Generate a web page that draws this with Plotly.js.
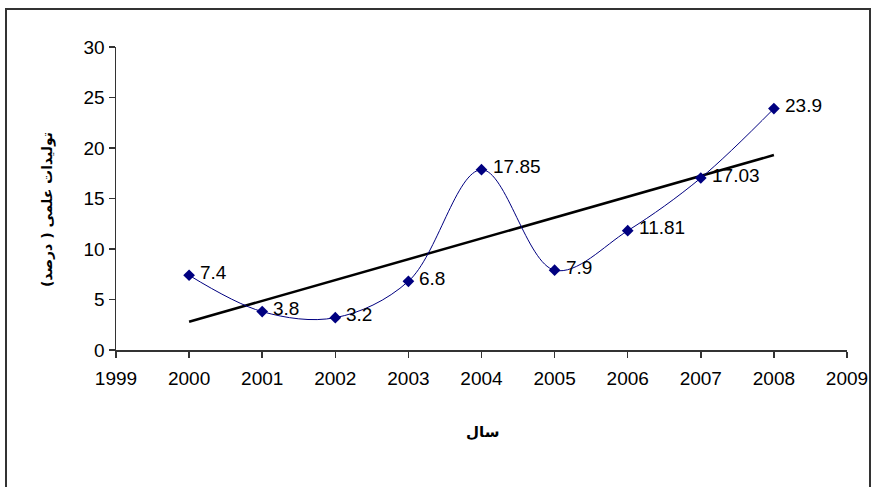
<!DOCTYPE html>
<html>
<head>
<meta charset="utf-8">
<script src="https://cdn.plot.ly/plotly-3.0.1.min.js"></script>
<style>
html,body{margin:0;padding:0;background:#fff;overflow:hidden;}
#wrap{position:relative;width:874px;height:487px;}
#chart{width:874px;height:487px;}
#frame{position:absolute;left:5px;top:8px;width:862px;height:520px;border:2px solid #333;pointer-events:none;}
</style>
</head>
<body>
<div id="wrap"><div id="chart"></div><div id="frame"></div></div>
<script>
const years = [2000, 2001, 2002, 2003, 2004, 2005, 2006, 2007, 2008];
const values = [7.4, 3.8, 3.2, 6.8, 17.85, 7.9, 11.81, 17.03, 23.9];
const valueLabels = ['7.4', '3.8', '3.2', '6.8', '17.85', '7.9', '11.81', '17.03', '23.9'];
const trendYears = [2000, 2008];
const trendValues = [2.8, 19.3];
const xTicks = [1999, 2000, 2001, 2002, 2003, 2004, 2005, 2006, 2007, 2008, 2009];
const yTicks = [0, 5, 10, 15, 20, 25, 30];

const font = 'Arial, "Liberation Sans", sans-serif';
const faFont = '"DejaVu Sans", Arial, sans-serif';

const traces = [
  {
    x: trendYears, y: trendValues, mode: 'lines', type: 'scatter',
    line: {color: '#000000', width: 2.5}, hoverinfo: 'skip'
  },
  {
    x: years, y: values, mode: 'lines+markers', type: 'scatter',
    line: {color: '#000080', width: 1, shape: 'spline', smoothing: 1},
    marker: {symbol: 'diamond', size: 9, color: '#000080'}
  }
];

const annotations = years.map((yr, i) => ({
  x: yr, y: values[i], xref: 'x', yref: 'y', text: valueLabels[i],
  showarrow: false, xanchor: 'left', yanchor: 'middle', xshift: 9, yshift: 3,
  font: {family: font, size: 19, color: '#000'}
}));

const layout = {
  width: 874, height: 487,
  margin: {l: 116, r: 27, t: 47, b: 137},
  paper_bgcolor: '#fff', plot_bgcolor: 'rgba(0,0,0,0)',
  showlegend: false,
  font: {family: font, size: 19, color: '#000'},
  xaxis: {
    range: [1999, 2009], tickvals: xTicks, ticktext: xTicks.map(String),
    showgrid: false, zeroline: false, showline: true, linecolor: '#333', linewidth: 1.5,
    ticks: 'outside', ticklen: 6, tickcolor: '#333', tickwidth: 1.5, ticklabelstandoff: 5,
    tickfont: {family: font, size: 19, color: '#000'}, fixedrange: true
  },
  yaxis: {
    range: [0, 30], tickvals: yTicks, ticktext: yTicks.map(String),
    showgrid: false, zeroline: false, showline: true, linecolor: '#333', linewidth: 1.5,
    ticks: 'outside', ticklen: 6, tickcolor: '#333', tickwidth: 1.5,
    tickfont: {family: font, size: 19, color: '#000'}, fixedrange: true
  },
  annotations: annotations.concat([
    {
      x: (483 - 116) / 731, y: -(432 - 350) / 303, xref: 'paper', yref: 'paper',
      text: '<b>سال</b>', showarrow: false, xanchor: 'center', yanchor: 'middle',
      font: {family: faFont, size: 15, color: '#000'}
    },
    {
      x: -(116 - 47) / 731, y: (350 - 210) / 303, xref: 'paper', yref: 'paper',
      text: '<b>تولیدات علمی ( درصد)</b>', showarrow: false, textangle: -90,
      xanchor: 'center', yanchor: 'middle',
      font: {family: faFont, size: 14, color: '#000'}
    }
  ])
};

Plotly.newPlot('chart', traces, layout, {displayModeBar: false, staticPlot: true});
</script>
</body>
</html>
